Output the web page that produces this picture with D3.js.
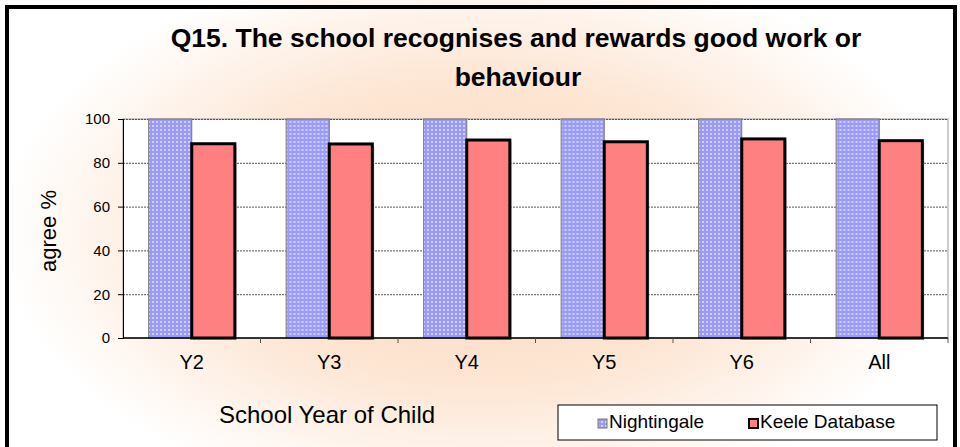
<!DOCTYPE html>
<html>
<head>
<meta charset="utf-8">
<script src="https://cdn.jsdelivr.net/npm/d3@7"></script>
<style>
  body { margin: 0; background: #fff; }
  svg { display: block; font-family: Arial, "Liberation Sans", sans-serif; }
</style>
</head>
<body>
<div id="chart"></div>
<script>
// chart values
var categories = ['Y2', 'Y3', 'Y4', 'Y5', 'Y6', 'All'];
var seriesNames = ['Nightingale', 'Keele Database'];
var nightingale = [100, 100, 100, 100, 100, 100];
var keele = [88.7, 88.6, 90.4, 89.6, 90.9, 90.1];
var yTicks = [0, 20, 40, 60, 80, 100];

var width = 960,
    height = 447,
    plot = { left: 123, top: 119, right: 948, bottom: 338 };

var svg = d3.select('#chart').append('svg')
    .attr('width', width)
    .attr('height', height);

var defs = svg.append('defs');

// peach glow behind the chart
var glow = defs.append('radialGradient')
    .attr('id', 'glow')
    .attr('cx', '0.5').attr('cy', '0.52')
    .attr('r', '0.5')
    .attr('gradientTransform', 'translate(0.5,0.52) scale(1,1.25) translate(-0.5,-0.52)');
glow.append('stop').attr('offset', '0%').attr('stop-color', '#fcd9bd');
glow.append('stop').attr('offset', '55%').attr('stop-color', '#fde6d4');
glow.append('stop').attr('offset', '100%').attr('stop-color', '#ffffff');

// dotted blue fill
var dots = defs.append('pattern')
    .attr('id', 'dots')
    .attr('patternUnits', 'userSpaceOnUse')
    .attr('width', 4).attr('height', 4);
dots.append('rect').attr('width', 4).attr('height', 4).attr('fill', '#9b9bf7');
dots.append('rect').attr('x', 1).attr('y', 1).attr('width', 2).attr('height', 2).attr('fill', '#cfcfff');

svg.append('rect')
    .attr('x', 0).attr('y', 0)
    .attr('width', width).attr('height', height)
    .attr('fill', 'url(#glow)');

// plot area
svg.append('rect')
    .attr('x', plot.left).attr('y', plot.top)
    .attr('width', plot.right - plot.left)
    .attr('height', plot.bottom - plot.top)
    .attr('fill', '#fff')
    .attr('stroke', '#999')
    .attr('stroke-width', 1);

var x = d3.scaleBand()
    .domain(categories)
    .range([plot.left, plot.right])
    .paddingInner(0)
    .paddingOuter(0);

var x1 = d3.scaleBand()
    .domain(seriesNames)
    .range([0, x.bandwidth()])
    .paddingInner(0)
    .paddingOuter(0.595);

var y = d3.scaleLinear()
    .domain([0, 100])
    .range([plot.bottom, plot.top]);

// gridlines
svg.append('g')
    .selectAll('line')
    .data(yTicks.filter(function(d) { return d > 0; }))
    .enter().append('line')
    .attr('x1', plot.left).attr('x2', plot.right)
    .attr('y1', function(d) { return y(d) + 0.5; })
    .attr('y2', function(d) { return y(d) + 0.5; })
    .attr('stroke', '#555')
    .attr('stroke-width', 1)
    .attr('stroke-dasharray', '2,1');

var groups = svg.append('g')
    .selectAll('g')
    .data(categories)
    .enter().append('g')
    .attr('transform', function(d) { return 'translate(' + x(d) + ',0)'; });

groups.append('rect')
    .attr('x', x1('Nightingale'))
    .attr('y', function(d, i) { return y(nightingale[i]); })
    .attr('width', x1.bandwidth())
    .attr('height', function(d, i) { return y(0) - y(nightingale[i]); })
    .attr('fill', 'url(#dots)')
    .attr('stroke', '#777')
    .attr('stroke-width', 1);

// little grey shadow under the red bars
groups.append('rect')
    .attr('x', x1('Keele Database') + 2)
    .attr('y', function(d, i) { return y(keele[i]) + 2; })
    .attr('width', x1.bandwidth())
    .attr('height', function(d, i) { return y(0) - y(keele[i]); })
    .attr('fill', '#bbb')
    .attr('opacity', 0.6);

groups.append('rect')
    .attr('x', x1('Keele Database'))
    .attr('y', function(d, i) { return y(keele[i]); })
    .attr('width', x1.bandwidth())
    .attr('height', function(d, i) { return y(0) - y(keele[i]); })
    .attr('fill', '#ff8080')
    .attr('stroke', '#000')
    .attr('stroke-width', 3);

// axes
var yAxis = d3.axisLeft(y)
    .tickValues(yTicks)
    .tickSize(5)
    .tickPadding(8);

svg.append('g')
    .attr('transform', 'translate(' + plot.left + ',0)')
    .call(yAxis)
    .call(function(g) {
        g.select('.domain').attr('stroke', '#000');
        g.selectAll('.tick line').attr('stroke', '#000');
        g.selectAll('.tick text')
            .attr('font-size', 15)
            .attr('fill', '#000')
            .style('font-family', 'Arial, "Liberation Sans", sans-serif');
    });

var xAxis = d3.axisBottom(x)
    .tickSize(0)
    .tickPadding(17);

svg.append('g')
    .attr('transform', 'translate(0,' + plot.bottom + ')')
    .call(xAxis)
    .call(function(g) {
        g.select('.domain').remove();
        g.selectAll('.tick text')
            .attr('font-size', 20)
            .attr('fill', '#000')
            .style('font-family', 'Arial, "Liberation Sans", sans-serif');
    });

// baseline and category dividers
svg.append('line')
    .attr('x1', plot.left).attr('x2', plot.right)
    .attr('y1', plot.bottom).attr('y2', plot.bottom)
    .attr('stroke', '#000').attr('stroke-width', 1.5);

svg.append('g')
    .selectAll('line')
    .data(categories.slice(1).concat(['end']))
    .enter().append('line')
    .attr('x1', function(d) { return d === 'end' ? plot.right : x(d); })
    .attr('x2', function(d) { return d === 'end' ? plot.right : x(d); })
    .attr('y1', plot.bottom).attr('y2', plot.bottom + 5)
    .attr('stroke', '#555');

// titles
var title = svg.append('text')
    .attr('text-anchor', 'middle')
    .attr('font-size', 26.5)
    .attr('font-weight', 'bold')
    .attr('fill', '#000');
title.append('tspan').attr('x', 516).attr('y', 47)
    .text('Q15. The school recognises and rewards good work or');
title.append('tspan').attr('x', 518).attr('y', 86)
    .text('behaviour');

svg.append('text')
    .attr('transform', 'translate(56,231) rotate(-90)')
    .attr('text-anchor', 'middle')
    .attr('font-size', 22)
    .attr('fill', '#000')
    .text('agree %');

svg.append('text')
    .attr('x', 327).attr('y', 423)
    .attr('text-anchor', 'middle')
    .attr('font-size', 24)
    .attr('fill', '#000')
    .text('School Year of Child');

// legend
var legend = svg.append('g');
legend.append('rect')
    .attr('x', 558).attr('y', 405)
    .attr('width', 379).attr('height', 35)
    .attr('fill', '#fff')
    .attr('stroke', '#000')
    .attr('stroke-width', 1);

var legendItems = [
    { name: seriesNames[0], x: 598, fill: 'url(#dots)', stroke: '#777', sw: 1 },
    { name: seriesNames[1], x: 749, fill: '#ff8080', stroke: '#000', sw: 2 }
];
var li = legend.selectAll('g.item')
    .data(legendItems)
    .enter().append('g')
    .attr('class', 'item');
li.append('rect')
    .attr('x', function(d) { return d.x; })
    .attr('y', 419)
    .attr('width', 9).attr('height', 9)
    .attr('fill', function(d) { return d.fill; })
    .attr('stroke', function(d) { return d.stroke; })
    .attr('stroke-width', function(d) { return d.sw; });
li.append('text')
    .attr('x', function(d) { return d.x + 11; })
    .attr('y', 428)
    .attr('font-size', 19)
    .attr('fill', '#000')
    .text(function(d) { return d.name; });

// outer frame
svg.append('rect')
    .attr('x', 7).attr('y', 7)
    .attr('width', 948).attr('height', 450)
    .attr('fill', 'none')
    .attr('stroke', '#000')
    .attr('stroke-width', 4);
</script>
</body>
</html>
